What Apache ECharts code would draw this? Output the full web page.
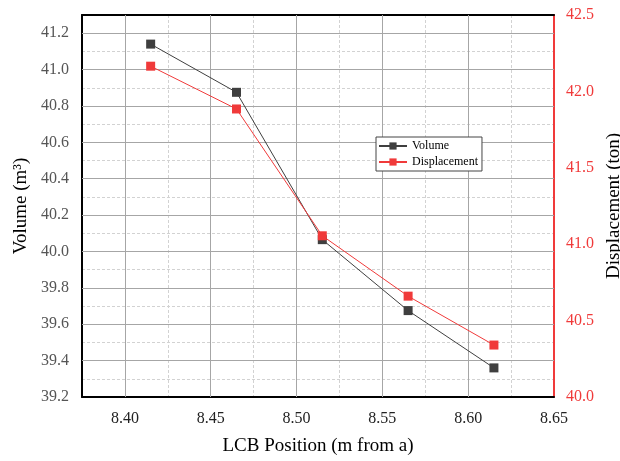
<!DOCTYPE html>
<html>
<head>
<meta charset="utf-8">
<script src="https://cdn.jsdelivr.net/npm/echarts@6/dist/echarts.min.js"></script>
<style>
  html, body { margin: 0; padding: 0; background: #fff; }
  #chart { width: 620px; height: 461px; }
</style>
</head>
<body>
<div id="chart"></div>
<script>
  // data
  const lcbPos = [8.415, 8.465, 8.515, 8.565, 8.615];
  const volume = [41.14, 40.875, 40.065, 39.675, 39.36];
  const displacement = [42.165, 41.885, 41.055, 40.66, 40.34];
  const xMajor = [8.40, 8.45, 8.50, 8.55, 8.60];
  const yMajor = [39.4, 39.6, 39.8, 40.0, 40.2, 40.4, 40.6, 40.8, 41.0, 41.2];

  const FONT = 'Liberation Serif';
  const RED = '#f03a3a';

  const chart = echarts.init(document.getElementById('chart'));

  const pairs = (xs, ys) => xs.map((x, i) => [x, ys[i]]);

  const option = {
    animation: false,
    textStyle: { fontFamily: FONT },
    grid: {
      left: 82, right: 66, top: 15, bottom: 64,
      outerBoundsMode: 'none',
      containLabel: false
    },
    legend: {
      left: 376, top: 137,
      orient: 'vertical',
      itemGap: 4,
      itemWidth: 28, itemHeight: 9,
      padding: [3, 4, 3, 2],
      backgroundColor: '#fff',
      borderColor: '#444', borderWidth: 1,
      textStyle: { fontFamily: FONT, fontSize: 12, color: '#000' },
      data: ['Volume', 'Displacement']
    },
    xAxis: [
      {
        type: 'value',
        min: 8.375, max: 8.65, interval: 0.025,
        name: 'LCB Position (m from a)',
        nameLocation: 'middle', nameGap: 40,
        nameTextStyle: { fontFamily: FONT, fontSize: 19, color: '#000' },
        axisLine: { show: true, lineStyle: { color: '#000', width: 2 } },
        axisTick: { show: false },
        axisLabel: {
          margin: 14, fontFamily: FONT, fontSize: 16, color: '#222',
          formatter: v => (Math.round(v * 1000) % 50 === 0 ? v.toFixed(2) : '')
        },
        splitLine: { show: true, lineStyle: { color: '#d2d2d2', type: [3, 2], width: 1 } }
      },
      {
        // top frame line
        type: 'value',
        position: 'top',
        min: 8.375, max: 8.65, interval: 0.025,
        axisLine: { show: true, lineStyle: { color: '#000', width: 2 } },
        axisTick: { show: false },
        axisLabel: { show: false },
        splitLine: { show: false }
      }
    ],
    yAxis: [
      {
        type: 'value',
        min: 39.2, max: 41.3, interval: 0.1,
        name: 'Volume (m³)',
        nameLocation: 'middle', nameGap: 48,
        nameTextStyle: { fontFamily: FONT, fontSize: 19, color: '#000' },
        axisLine: { show: true, lineStyle: { color: '#000', width: 2 } },
        axisTick: { show: false },
        axisLabel: {
          margin: 13, fontFamily: FONT, fontSize: 16, color: '#555',
          formatter: v => (Math.round(v * 10) % 2 === 0 ? v.toFixed(1) : '')
        },
        splitLine: { show: true, lineStyle: { color: '#d2d2d2', type: [3, 2], width: 1 } }
      },
      {
        type: 'value',
        position: 'right',
        min: 40, max: 42.5, interval: 0.5,
        name: 'Displacement (ton)',
        nameLocation: 'middle', nameGap: 46, nameRotate: 90,
        nameTextStyle: { fontFamily: FONT, fontSize: 19, color: '#000' },
        axisLine: { show: true, lineStyle: { color: RED, width: 2 } },
        axisTick: { show: false },
        axisLabel: {
          margin: 12, fontFamily: FONT, fontSize: 16, color: RED,
          formatter: v => v.toFixed(1)
        },
        splitLine: { show: false }
      }
    ],
    series: [
      {
        name: 'Volume',
        type: 'line',
        yAxisIndex: 0,
        data: pairs(lcbPos, volume),
        symbol: 'rect', symbolSize: 9,
        itemStyle: { color: '#3f3f3f' },
        lineStyle: { color: '#3f3f3f', width: 1 },
        z: 5,
        markLine: {
          silent: true, symbol: 'none', animation: false,
          label: { show: false },
          lineStyle: { color: '#a6a6a6', type: 'solid', width: 1 },
          data: xMajor.map(v => ({ xAxis: v })).concat(yMajor.map(v => ({ yAxis: v }))),
          z: 1
        }
      },
      {
        name: 'Displacement',
        type: 'line',
        yAxisIndex: 1,
        data: pairs(lcbPos, displacement),
        symbol: 'rect', symbolSize: 9,
        itemStyle: { color: RED },
        lineStyle: { color: RED, width: 1 },
        z: 5
      }
    ]
  };

  chart.setOption(option);
  window.addEventListener('resize', () => { chart.resize() });
</script>
</body>
</html>
